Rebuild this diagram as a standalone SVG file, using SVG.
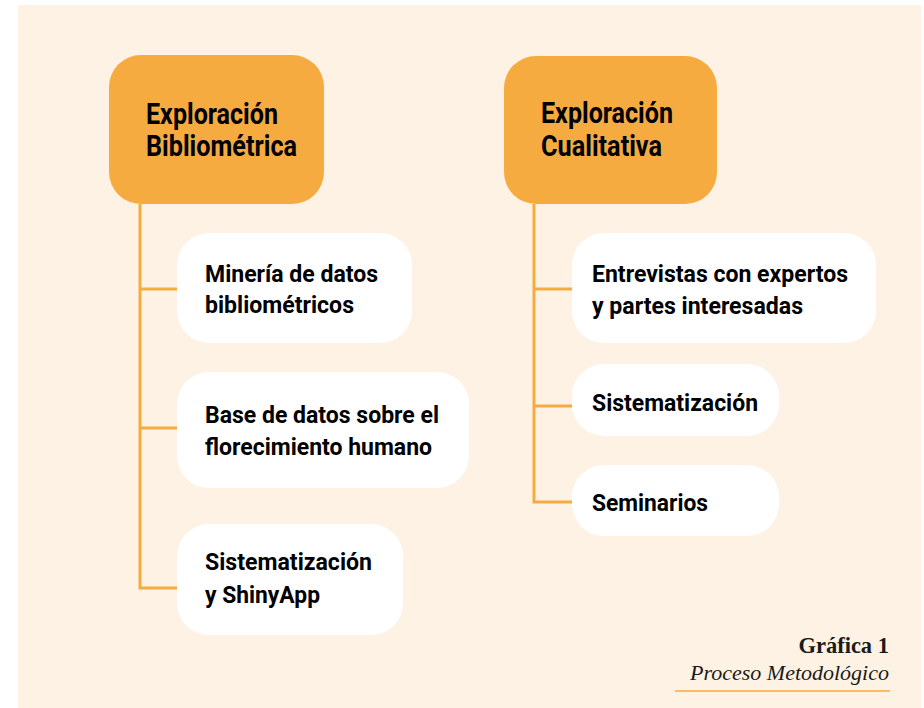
<svg xmlns="http://www.w3.org/2000/svg" width="924" height="708" viewBox="0 0 924 708">
<style>
.bg{fill:#fdf2e4}
.hdr{fill:#f6ab41}
.box{fill:#ffffff}
.conn{stroke:#f6ab41;stroke-width:3;fill:none}
.ht{font-family:Roboto,"Liberation Sans",sans-serif;font-weight:700;font-size:29px;fill:#000}
.bt{font-family:Roboto,"Liberation Sans",sans-serif;font-weight:700;font-size:24px;fill:#000}
.cap1{font-family:"Liberation Serif",serif;font-weight:700;font-size:22.5px;fill:#1a1a1a}
.cap2{font-family:"Liberation Serif",serif;font-style:italic;font-size:22px;fill:#1a1a1a}
</style>
<rect class="bg" x="18" y="5" width="903" height="703"/>
<g id="connectors">
<path class="conn" d="M140 204 V588 H177 M140 289 H177 M140 428 H177"/>
<path class="conn" d="M534 204 V502 H572 M534 289 H572 M534 406 H572"/>
</g>
<g id="n-biblio">
<rect class="hdr" x="109" y="55" width="215" height="149" rx="32"/>
<text class="ht" x="146" y="124" textLength="132" lengthAdjust="spacingAndGlyphs">Exploración</text>
<text class="ht" x="146" y="156" textLength="151" lengthAdjust="spacingAndGlyphs">Bibliométrica</text>
</g>
<g id="n-mineria">
<rect class="box" x="177" y="233" width="235" height="110" rx="32"/>
<text class="bt" x="205" y="282" textLength="173" lengthAdjust="spacingAndGlyphs">Minería de datos</text>
<text class="bt" x="205" y="313" textLength="149" lengthAdjust="spacingAndGlyphs">bibliométricos</text>
</g>
<g id="n-base">
<rect class="box" x="177" y="372" width="292" height="116" rx="32"/>
<text class="bt" x="205" y="423" textLength="234" lengthAdjust="spacingAndGlyphs">Base de datos sobre el</text>
<text class="bt" x="205" y="455" textLength="227" lengthAdjust="spacingAndGlyphs">florecimiento humano</text>
</g>
<g id="n-shiny">
<rect class="box" x="177" y="524" width="226" height="111" rx="32"/>
<text class="bt" x="205" y="570" textLength="167" lengthAdjust="spacingAndGlyphs">Sistematización</text>
<text class="bt" x="205" y="603" textLength="115" lengthAdjust="spacingAndGlyphs">y ShinyApp</text>
</g>
<g id="n-cuali">
<rect class="hdr" x="504" y="56" width="213" height="148" rx="32"/>
<text class="ht" x="541" y="123" textLength="132" lengthAdjust="spacingAndGlyphs">Exploración</text>
<text class="ht" x="541" y="156" textLength="121" lengthAdjust="spacingAndGlyphs">Cualitativa</text>
</g>
<g id="n-entrevistas">
<rect class="box" x="572" y="233" width="304" height="110" rx="32"/>
<text class="bt" x="592" y="282" textLength="256" lengthAdjust="spacingAndGlyphs">Entrevistas con expertos</text>
<text class="bt" x="592" y="314" textLength="211" lengthAdjust="spacingAndGlyphs">y partes interesadas</text>
</g>
<g id="n-sistem">
<rect class="box" x="572" y="364" width="207" height="72" rx="32"/>
<text class="bt" x="592" y="411" textLength="166" lengthAdjust="spacingAndGlyphs">Sistematización</text>
</g>
<g id="n-seminarios">
<rect class="box" x="572" y="465" width="207" height="71" rx="32"/>
<text class="bt" x="592" y="511" textLength="116" lengthAdjust="spacingAndGlyphs">Seminarios</text>
</g>
<g id="caption">
<text class="cap1" x="889" y="653" text-anchor="end">Gráfica 1</text>
<text class="cap2" x="889" y="680" text-anchor="end">Proceso Metodológico</text>
<line x1="675" y1="691" x2="890" y2="691" stroke="#f6ab41" stroke-width="1.5"/>
</g>
</svg>
